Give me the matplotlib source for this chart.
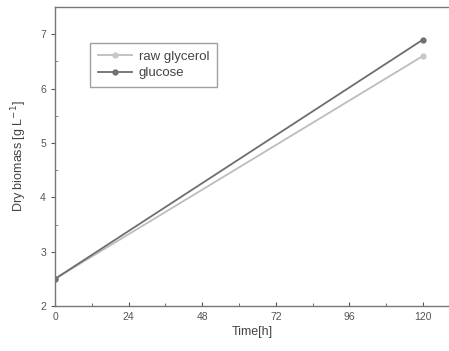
import numpy as np
import matplotlib.pyplot as plt

plt.rcParams['font.family'] = ['Liberation Sans', 'DejaVu Sans']

# data
time_h = [0, 120]
raw_glycerol = [2.5, 6.6]
glucose = [2.5, 6.9]

fig = plt.figure(figsize=(4.49, 3.51), dpi=100)
ax = fig.add_axes([0.1225, 0.128, 0.8775, 0.852])

ax.plot(time_h, raw_glycerol, color='#bdbdbd', lw=1.3, marker='o', ms=3.5,
        mfc='#c8c8c8', mec='#c8c8c8', label='raw glycerol')
ax.plot(time_h, glucose, color='#6e6e6e', lw=1.3, marker='o', ms=3.5,
        mfc='#707070', mec='#707070', label='glucose')

ax.set_xlim(0, 128.5)
ax.set_ylim(2, 7.5)
ax.set_xticks([0, 24, 48, 72, 96, 120])
ax.set_xticks([12, 36, 60, 84, 108], minor=True)
ax.set_yticks([2, 3, 4, 5, 6, 7])
ax.set_yticks([2.5, 3.5, 4.5, 5.5, 6.5], minor=True)

for s in ['left', 'bottom', 'top']:
    ax.spines[s].set_color('#777777')
    ax.spines[s].set_linewidth(1.0)
ax.spines['right'].set_visible(False)

ax.tick_params(axis='x', which='both', direction='in', colors='#555555',
               labelsize=7.5, length=3, pad=4)
ax.tick_params(axis='x', which='minor', length=2)
ax.tick_params(axis='y', which='major', direction='out', colors='#555555',
               labelsize=7.5, length=3)
ax.tick_params(axis='y', which='minor', direction='in', length=2, colors='#777777')

ax.set_xlabel('Time[h]', fontsize=9, color='#444444', labelpad=3)
ax.set_ylabel('Dry biomass [g L$^{-1}$]', fontsize=9, color='#444444', labelpad=8)

leg = ax.legend(loc='upper left', bbox_to_anchor=(0.089, 0.88), borderaxespad=0,
                fontsize=9.5, frameon=True, fancybox=False, handlelength=2.6,
                handletextpad=0.5, labelspacing=0.3, borderpad=0.6)
leg.get_frame().set_edgecolor('#888888')
leg.get_frame().set_linewidth(1.0)
for t in leg.get_texts():
    t.set_color('#444444')

fig.savefig('out.png', dpi=100)
